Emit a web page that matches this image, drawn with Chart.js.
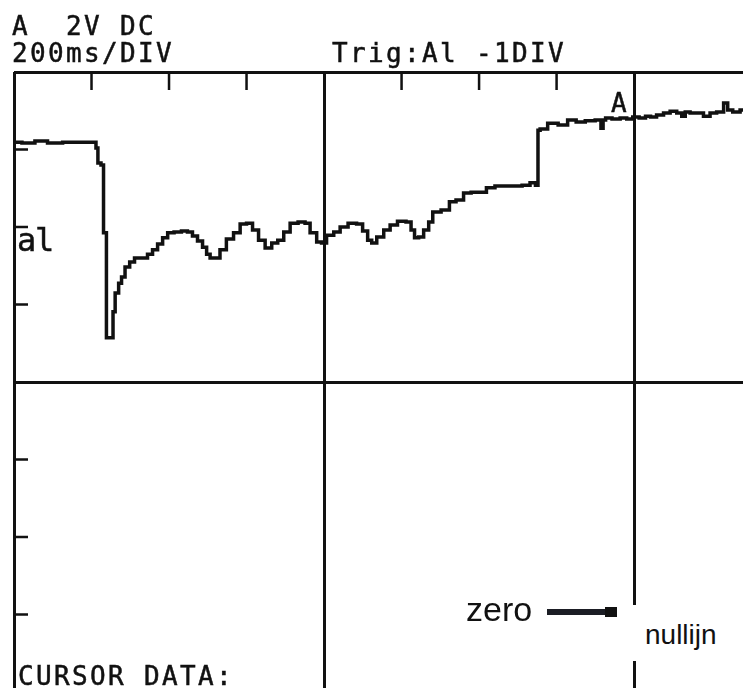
<!DOCTYPE html>
<html>
<head>
<meta charset="utf-8">
<script src="https://cdn.jsdelivr.net/npm/chart.js@4"></script>
<style>
  html, body { margin: 0; padding: 0; background: #fff; overflow: hidden; }
  #wrap { position: absolute; left: 0; top: 0; width: 743px; height: 700px; }
  #scope { position: absolute; left: 0; top: 0; }
  .mono { position: absolute; font-family: "DejaVu Sans Mono", monospace; font-size: 26px; line-height: 26px; letter-spacing: 2.35px; color: #111; white-space: pre; -webkit-text-stroke: 0.5px #111; }
  .sans { position: absolute; font-family: "Liberation Sans", Arial, sans-serif; color: #111; white-space: pre; }
</style>
</head>
<body>
<div id="wrap">
  <canvas id="scope" width="743" height="700"></canvas>
  <div class="mono" style="left:12px; top:13px;">A  2V DC</div>
  <div class="mono" style="left:12px; top:40px;">200ms/DIV</div>
  <div class="mono" style="left:332px; top:40px;">Trig:Al -1DIV</div>
  <div class="mono" style="left:611px; top:90px;">A</div>
  <div class="mono" style="left:17px; top:224px; font-size:32px; line-height:32px; letter-spacing:-1.3px;">al</div>
  <div class="mono" style="left:18px; top:663px;">CURSOR DATA:</div>
  <div class="sans" style="left:466px; top:592px; font-size:34px; line-height:34px;">zero</div>
  <div style="position:absolute; left:547px; top:609px; width:60px; height:6px; background:#1b1d24;"></div>
  <div style="position:absolute; left:605px; top:607px; width:12px; height:10px; background:#111;"></div>
  <div style="position:absolute; left:631px; top:605px; width:112px; height:56px; background:#fff;"></div>
  <div class="sans" style="left:645px; top:621px; font-size:28px; line-height:28px;">nullijn</div>
</div>
<script>
// trace: time in ms, voltage in V (2V/DIV, 200ms/DIV)
const timeMs = [
  0, 41, 67, 106, 145, 183, 209, 214, 219, 230,
  232, 237, 240, 255, 256, 266, 274, 281, 292, 305,
  317, 338, 351, 364, 377, 390, 403, 423, 441, 454,
  467, 480, 493, 501, 511, 524, 539, 557, 576, 591,
  609, 622, 640, 656, 674, 687, 705, 720, 746, 756,
  772, 790, 797, 816, 834, 849, 875, 893, 906, 919,
  927, 945, 963, 978, 1001, 1022, 1027, 1040, 1048, 1066,
  1074, 1087, 1117, 1130, 1151, 1169, 1190, 1210, 1228, 1254,
  1272, 1298, 1324, 1339, 1352, 1352, 1363, 1391, 1417, 1440,
  1461, 1487, 1512, 1517, 1523, 1530, 1556, 1572, 1590, 1603,
  1623, 1636, 1649, 1667, 1685, 1701, 1719, 1727, 1737, 1752,
  1770, 1788, 1804, 1822, 1830, 1832, 1840, 1843, 1866, 1881
];
const voltage = [
  12.19, 12.17, 12.22, 12.17, 12.19, 12.19, 12.19, 12.04, 11.65, 11.60,
  9.85, 9.85, 7.14, 7.14, 7.81, 8.30, 8.55, 8.71, 8.97, 9.10,
  9.20, 9.20, 9.30, 9.41, 9.56, 9.72, 9.85, 9.87, 9.90, 9.87,
  9.77, 9.64, 9.48, 9.30, 9.20, 9.20, 9.41, 9.69, 9.85, 10.08,
  10.10, 9.92, 9.66, 9.46, 9.59, 9.66, 9.87, 10.10, 10.13, 10.10,
  9.85, 9.61, 9.59, 9.79, 9.87, 10.00, 10.10, 10.08, 9.90, 9.66,
  9.59, 9.74, 9.92, 10.05, 10.15, 10.13, 9.92, 9.72, 9.74, 9.92,
  10.13, 10.39, 10.44, 10.65, 10.70, 10.88, 10.90, 10.90, 11.01, 11.06,
  11.06, 11.06, 11.08, 11.14, 11.08, 12.50, 12.53, 12.68, 12.63, 12.76,
  12.71, 12.74, 12.76, 12.55, 12.76, 12.81, 12.79, 12.81, 12.79, 12.84,
  12.81, 12.86, 12.84, 12.89, 12.94, 12.99, 12.94, 12.86, 12.97, 12.94,
  12.94, 12.86, 12.94, 12.97, 12.97, 13.20, 13.20, 13.02, 12.97, 13.02
];

// screen window
const timeMin = 0, timeMax = 1881, msPerDiv = 200, msPerMajor = 800;
const voltMin = -2, voltMax = 14, voltPerDiv = 2, voltPerMajor = 8;

const ink = '#111';

// small division marks pointing into the screen (top edge and left edge)
const divMarks = {
  id: 'divMarks',
  afterDraw(chart) {
    const { ctx, chartArea, scales } = chart;
    ctx.save();
    ctx.strokeStyle = ink;
    ctx.lineWidth = 2.5;
    ctx.beginPath();
    scales.x.ticks.forEach(t => {
      if (t.value % msPerDiv !== 0 || t.value % msPerMajor === 0) return;
      const px = scales.x.getPixelForValue(t.value);
      ctx.moveTo(px, chartArea.top);
      ctx.lineTo(px, chartArea.top + 18);
    });
    scales.y.ticks.forEach(t => {
      if ((t.value - voltMin) % voltPerMajor === 0) return;
      const py = scales.y.getPixelForValue(t.value);
      ctx.moveTo(chartArea.left, py);
      ctx.lineTo(chartArea.left + 14, py);
    });
    ctx.stroke();
    ctx.restore();
  }
};

const ctx = document.getElementById('scope').getContext('2d');
new Chart(ctx, {
  type: 'line',
  data: {
    datasets: [{
      label: 'A',
      data: timeMs.map((t, i) => ({ x: t, y: voltage[i] })),
      borderColor: ink,
      borderWidth: 3.5,
      pointRadius: 0,
      stepped: 'middle',
      fill: false,
      borderJoinStyle: 'miter'
    }]
  },
  options: {
    responsive: false,
    animation: false,
    events: [],
    layout: { padding: { left: 14, top: 72, right: 0, bottom: 8 } },
    plugins: {
      legend: { display: false },
      tooltip: { enabled: false }
    },
    scales: {
      x: {
        type: 'linear',
        min: timeMin,
        max: timeMax,
        afterFit: s => { s.height = 0; },
        ticks: { display: false, stepSize: msPerDiv },
        border: { display: false },
        grid: {
          drawTicks: false,
          lineWidth: 3,
          color: c => (c.tick && c.tick.value % msPerMajor === 0) ? ink : 'rgba(0,0,0,0)'
        }
      },
      y: {
        min: voltMin,
        max: voltMax,
        afterFit: s => { s.width = 0; },
        ticks: { display: false, stepSize: voltPerDiv },
        border: { display: false },
        grid: {
          drawTicks: false,
          lineWidth: 3,
          color: c => (c.tick && (c.tick.value - voltMin) % voltPerMajor === 0) ? ink : 'rgba(0,0,0,0)'
        }
      }
    }
  },
  plugins: [divMarks]
});
</script>
</body>
</html>
